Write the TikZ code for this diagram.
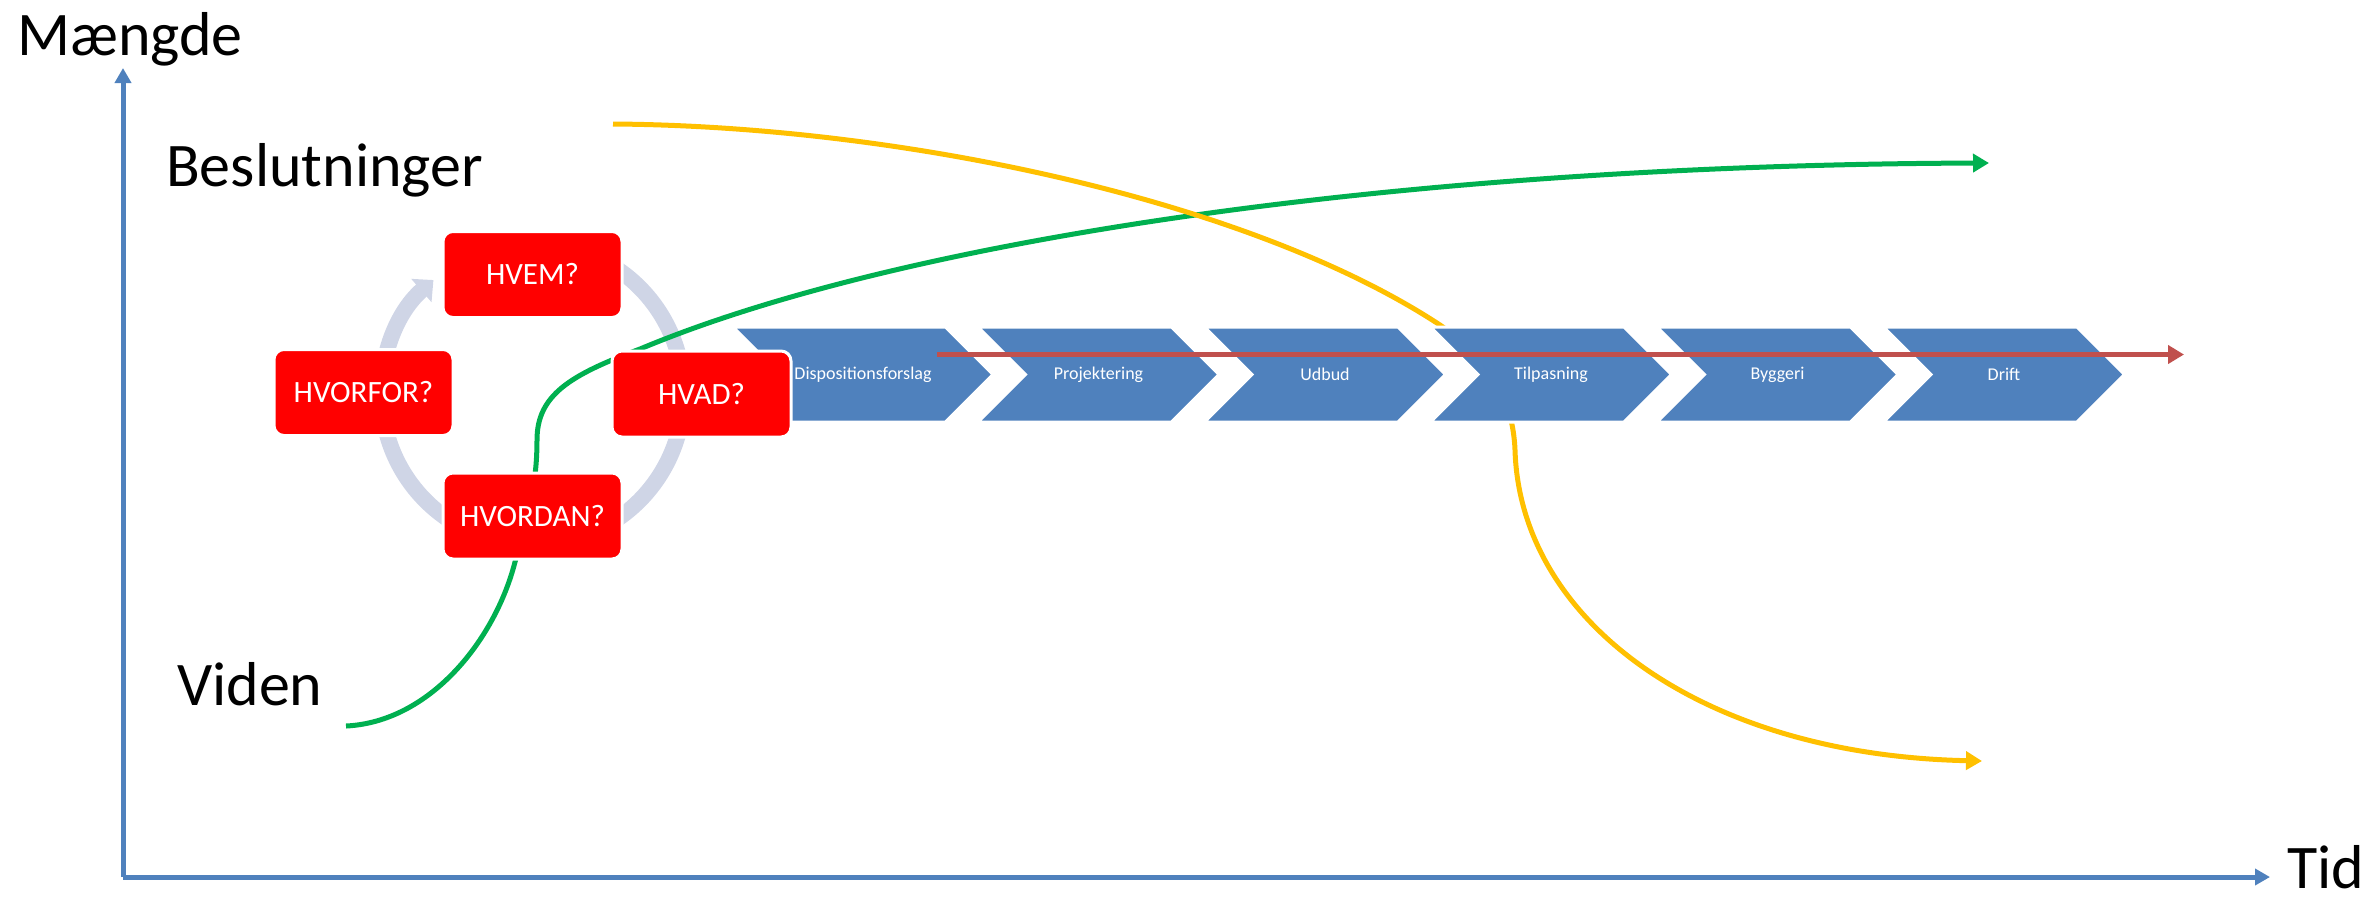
\documentclass[tikz,border=0pt]{standalone}
\usepackage{fontspec}
\setmainfont{Carlito}
\usepackage{tikz}
\usepackage{xcolor}
\usetikzlibrary{positioning, arrows.meta}
\usetikzlibrary{shapes.symbols}

\definecolor{axisblue}{HTML}{4F81BD}
\definecolor{stageblue}{HTML}{4F81BD}
\definecolor{qred}{HTML}{FF0000}
\definecolor{ringgrey}{HTML}{CFD5E6}
\definecolor{knowgreen}{HTML}{00B050}
\definecolor{decyellow}{HTML}{FFC000}
\definecolor{timered}{HTML}{C0504D}

\begin{document}
\begin{tikzpicture}[x=1pt, y=-1pt,
        axis/.style={axisblue, line width=5pt, -{Triangle[length=15pt, width=16pt]}},
        big/.style={font=\fontsize{62}{74}\selectfont, inner sep=0pt},
        question/.style={rectangle, rounded corners=10pt, fill=qred, draw=white, line width=3pt,
            minimum width=179pt, minimum height=86pt, text=white, font=\fontsize{31}{37}\selectfont},
        stage/.style={signal, signal from=west, signal to=east, fill=stageblue, draw=white, line width=3pt,
            minimum width=241pt, minimum height=95pt, inner sep=0pt, text=white, font=\fontsize{18}{22}\selectfont},
        curve/.style={line width=5pt, -{Triangle[length=16pt, width=18pt]}}
    ]
            \useasboundingbox (0,0) rectangle (2372,898);

            \coordinate (origin) at (123,877);
            \coordinate (ytop) at (123,68);
            \coordinate (xend) at (2270,877);
            \draw[axis] (origin) -- (ytop);
            \draw[axis] (origin) -- (xend);

            \node[big, anchor=base west] (maengde) at (17,55) {Mængde};
            \node[big, anchor=base west] (tid) at (2287,888) {Tid};
            \node[big, anchor=base west] (beslutninger) at (166,186) {Beslutninger};
            \node[big, anchor=base west] (viden) at (177,705) {Viden};

            \coordinate (cyc) at (532.5,394);
            \draw[ringgrey, line width=16pt, -{Triangle[length=16pt, width=30pt]}]
                (cyc) ++(-100:151) arc[start angle=-100, end angle=229, radius=151];

            \coordinate (kstart) at (346,726);
            \coordinate (kend) at (1989,163);
            \draw[curve, knowgreen] (kstart) .. controls (430,722) and (495,640) .. (515,562)
                .. controls (530,510) and (537,480) .. (537,440)
                .. controls (537,395) and (570,375) .. (640,349)
                .. controls (900,240) and (1400,165) .. (kend);

            \coordinate (dstart) at (613,124);
            \coordinate (dend) at (1982,761);
            \draw[curve, decyellow] (dstart) .. controls (900,126) and (1250,200) .. (1440,325)
                .. controls (1490,360) and (1513,400) .. (1515,450)
                .. controls (1520,620) and (1700,755) .. (dend);

            \node[stage, minimum width=260pt] (dispositionsforslag) at (863,374.5) {Dispositionsforslag};
            \node[stage] (projektering) at (1098.5,374.5) {Projektering};
            \node[stage] (udbud) at (1325,374.5) {Udbud};
            \node[stage] (tilpasning) at (1551,374.5) {Tilpasning};
            \node[stage] (byggeri) at (1777.5,374.5) {Byggeri};
            \node[stage] (drift) at (2004,374.5) {Drift};

            \coordinate (tstart) at (937,354.5);
            \coordinate (tend) at (2184,354.5);
            \draw[curve, timered] (tstart) -- (tend);

            \node[question] (hvem) at (532.5,274.5) {HVEM?};
            \node[question] (hvorfor) at (363.5,392.5) {HVORFOR?};
            \node[question] (hvad) at (701.5,394) {HVAD?};
            \node[question] (hvordan) at (532.5,516) {HVORDAN?};
\end{tikzpicture}
\end{document}
